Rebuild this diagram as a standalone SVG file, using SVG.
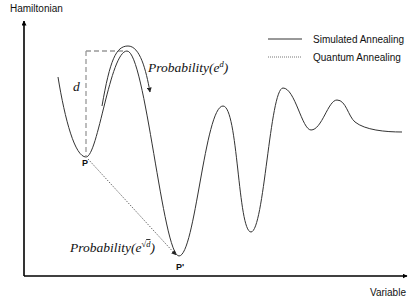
<svg xmlns="http://www.w3.org/2000/svg" width="415" height="302" viewBox="0 0 415 302">
<style>
.lbl{font-family:"Liberation Sans",Arial,sans-serif;font-size:10px;fill:#111}
.pt{font-family:"Liberation Sans",Arial,sans-serif;font-size:9px;font-weight:bold;fill:#111}
.math{font-family:"Liberation Serif","Times New Roman",serif;font-style:italic;font-size:13.5px;fill:#111}
.curve{fill:none;stroke:#333;stroke-width:1}
.dash{fill:none;stroke:#999;stroke-width:1.3;stroke-dasharray:5,3}
.dot{fill:none;stroke:#444;stroke-width:0.9;stroke-dasharray:1.2,1.4}
.axis{fill:none;stroke:#000;stroke-width:1.6}
</style>
<defs>
<marker id="ax" viewBox="0 0 10 10" refX="9" refY="5" markerWidth="5" markerHeight="5" orient="auto" markerUnits="userSpaceOnUse">
<path d="M0,0 L10,5 L0,10 z" fill="#000"/>
</marker>
<marker id="ah" viewBox="0 0 10 10" refX="9" refY="5" markerWidth="5" markerHeight="5" orient="auto" markerUnits="userSpaceOnUse">
<path d="M0,0 L10,5 L0,10 z" fill="#222"/>
</marker>
</defs>
<g id="axes">
<path class="axis" d="M24,276 L24,21" marker-end="url(#ax)"/>
<path class="axis" d="M24,276 L407,276" marker-end="url(#ax)"/>
<text class="lbl" x="10" y="12">Hamiltonian</text>
<text class="lbl" x="370" y="296">Variable</text>
</g>
<g id="landscape">
<path class="curve" d="M58,77 C65,120 75,157 86,157 C98,157 110,51 127,51 C145,51 163,256 179,256 C195,256 205,106 223,106 C238,106 238,232 251,232 C264,232 270,88 283,88 C295,88 302,130 311,130 C322,130 328,100 337,100 C346,100 348,116 355,122 C365,130 385,132 402,132"/>
</g>
<g id="barrier">
<path class="dash" d="M86,51 L123,51 M86,51 L86,157"/>
<text class="math" x="73" y="91">d</text>
</g>
<g id="point-P">
<text class="pt" x="85" y="166" text-anchor="middle">P</text>
</g>
<g id="point-P2">
<text class="pt" x="180" y="270" text-anchor="middle">P'</text>
</g>
<g id="connectors">
<path class="curve" d="M102,106 C110,60 116,46 128,46 C140,46 146,70 150,92" marker-end="url(#ah)"/>
<path class="dot" d="M88,159 L176,255" marker-end="url(#ah)"/>
</g>
<g id="label-thermal">
<text class="math" x="148" y="72">Probability(e<tspan font-size="8.5" dy="-5">d</tspan><tspan dy="5">)</tspan></text>
</g>
<g id="label-quantum">
<text class="math" x="70" y="252">Probability(e<tspan font-size="8.5" dy="-5" font-style="normal">√</tspan><tspan font-size="8.5" text-decoration="overline">d</tspan><tspan dy="5">)</tspan></text>
</g>
<g id="legend">
<line x1="268" y1="39" x2="302" y2="39" stroke="#333" stroke-width="1"/>
<text class="lbl" x="313" y="43">Simulated Annealing</text>
<line x1="268" y1="57" x2="302" y2="57" stroke="#666" stroke-width="0.9" stroke-dasharray="1,1"/>
<text class="lbl" x="313" y="61">Quantum Annealing</text>
</g>
</svg>
